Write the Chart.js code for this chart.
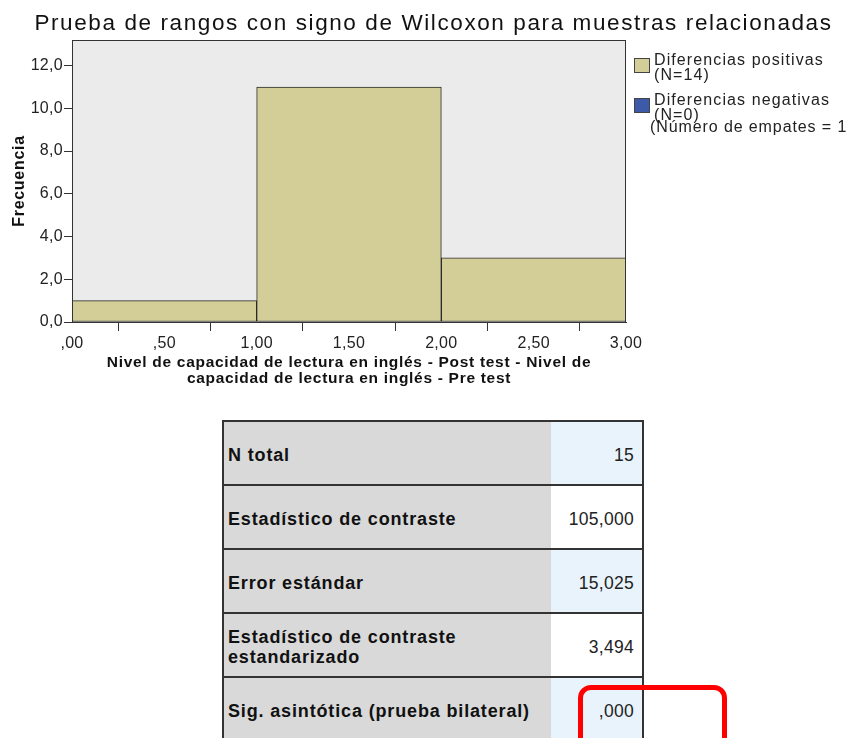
<!DOCTYPE html>
<html>
<head>
<meta charset="utf-8">
<script src="https://cdn.jsdelivr.net/npm/chart.js@4.4.1/dist/chart.umd.min.js"></script>
<style>
  body { margin: 0; background: #fff; font-family: "Liberation Sans", Arial, sans-serif; color: #111; }
  #page { position: relative; width: 855px; height: 738px; overflow: hidden; }
  #title { position: absolute; left: 12px; top: 10px; width: 843px; text-align: center; font-size: 22.5px;
           line-height: 26px; letter-spacing: 1.6px; white-space: nowrap; }
  #plot { position: absolute; left: 0; top: 0; }
  #legend { position: absolute; left: 634px; top: 51.5px; font-size: 16px; line-height: 15px;
            letter-spacing: 1.1px; color: #222; }
  .lg-item { position: relative; padding-left: 20px; margin-bottom: 10px; white-space: nowrap; }
  .lg-sw { position: absolute; left: 0; top: 6.5px; width: 14px; height: 13px; border: 1px solid #444; }
  .lg-note { padding-left: 16px; margin-top: -12.5px; white-space: nowrap; letter-spacing: 0.9px; }
  #stats { position: absolute; left: 222px; top: 420px; width: 418px; border: 2px solid #333; border-bottom: none; }
  .st-row { display: flex; height: 62px; border-bottom: 2px solid #333; }
  .st-lab { width: 327px; background: #d9d9d9; font-weight: bold; font-size: 18px; letter-spacing: 0.85px;
            display: flex; align-items: center; padding: 4px 0 0 4px; box-sizing: border-box; line-height: 20px; }
  .st-val { flex: 1; font-size: 17.5px; letter-spacing: 0.3px; color: #222; display: flex; align-items: center;
            justify-content: flex-end; padding: 4px 8px 0 0; }
  .st-row:nth-child(odd) .st-val { background: #e9f3fc; }
  .st-row:nth-child(even) .st-val { background: #fff; }
  #mark { position: absolute; left: 578px; top: 685px; width: 139px; height: 90px; border: 5px solid #f00; border-radius: 13px; }
</style>
</head>
<body>
<div id="page">
  <canvas id="plot" width="855" height="395"></canvas>
  <div id="title"></div>
  <div id="legend"></div>
  <div id="stats"></div>
  <div id="mark"></div>
</div>
<script>
// histogram bins (difference post - pre) and how many cases fall in each
const binStart = [0, 1, 2];
const binEnd = [1, 2, 3];
const frequency = [1, 11, 3];

// axis ticks as printed by SPSS
const xTickValues = [0, 0.5, 1, 1.5, 2, 2.5, 3];
const yTickValues = [0, 2, 4, 6, 8, 10, 12];
const yMax = 13.2;

const chartTitle = "Prueba de rangos con signo de Wilcoxon para muestras relacionadas";
const xTitle = ["Nivel de capacidad de lectura en inglés - Post test - Nivel de",
                "capacidad de lectura en inglés - Pre test"];
const yTitle = "Frecuencia";

const legendLabels = [["Diferencias positivas", "(N=14)"], ["Diferencias negativas", "(N=0)"]];
const legendColors = ["#d3ce97", "#3d5aa9"];
const tiesNote = "(Número de empates = 1";

// test summary table
const statLabels = ["N total", "Estadístico de contraste", "Error estándar",
                    "Estadístico de contraste<br>estandarizado", "Sig. asintótica (prueba bilateral)"];
const statValues = ["15", "105,000", "15,025", "3,494", ",000"];

const comma = (v, d) => v.toFixed(d).replace(".", ",");

document.getElementById("title").textContent = chartTitle;

document.getElementById("legend").innerHTML =
  legendLabels.map((l, i) =>
    `<div class="lg-item"><span class="lg-sw" style="background:${legendColors[i]}"></span>${l.join("<br>")}</div>`
  ).join("") + `<div class="lg-note">${tiesNote}</div>`;

document.getElementById("stats").innerHTML = statLabels.map((l, i) =>
  `<div class="st-row"><div class="st-lab">${l}</div><div class="st-val">${statValues[i]}</div></div>`).join("");

// light gray plot panel + frame, like the SPSS chart area
const panel = {
  id: "panel",
  beforeDraw(c) {
    const a = c.chartArea, ctx = c.ctx;
    ctx.save(); ctx.fillStyle = "#ebebeb";
    ctx.fillRect(a.left, a.top, a.width, a.height); ctx.restore();
  },
  afterDraw(c) {
    const a = c.chartArea, ctx = c.ctx;
    ctx.save(); ctx.strokeStyle = "#333"; ctx.lineWidth = 1;
    ctx.strokeRect(a.left + 0.5, a.top + 0.5, a.width - 1, a.height); ctx.restore();
  },
};

// SPSS text is a bit wider than Liberation: axis titles are drawn with the grid layer,
// tick labels (ticks.z = 1) after the datasets, so each gets its own spacing
const spacing = {
  id: "spacing",
  beforeDraw(c) { c.ctx.letterSpacing = "0.7px"; },
  afterDatasetsDraw(c) { c.ctx.letterSpacing = "0.3px"; },
};

new Chart(document.getElementById("plot"), {
  type: "bar",
  data: {
    datasets: [{
      label: "Frecuencia",
      data: binStart.map((s, i) => ({ x: (s + binEnd[i]) / 2, y: frequency[i] })),
      backgroundColor: legendColors[0], borderColor: "#2a2a2a", borderWidth: 1, borderSkipped: false,
      barThickness: "flex", barPercentage: 1, categoryPercentage: 1,
    }],
  },
  options: {
    responsive: false, animation: false,
    layout: { padding: { top: 40, right: 229, left: 0, bottom: 0 } },
    plugins: { legend: { display: false }, tooltip: { enabled: false } },
    scales: {
      x: {
        type: "linear", min: 0, max: 3, offset: false,
        afterBuildTicks(s) { s.ticks = xTickValues.map(v => ({ value: v })); },
        afterFit(s) { s.height = 73; },
        grid: { drawOnChartArea: false, drawTicks: true, tickLength: 9, color: "#333" },
        border: { display: true, color: "#333" },
        ticks: { z: 1, autoSkip: false, maxRotation: 0, padding: 3, color: "#222",
                 font: { family: "Liberation Sans", size: 16 },
                 callback: v => comma(v, 2).replace(/^0/, "") },
        title: { display: true, text: xTitle, color: "#111", padding: { top: 0, bottom: 8 },
                 font: { family: "Liberation Sans", size: 15.5, weight: "bold", lineHeight: 1.065 } },
      },
      y: {
        min: 0, max: yMax,
        afterBuildTicks(s) { s.ticks = yTickValues.map(v => ({ value: v })); },
        afterFit(s) { s.width = 72; },
        grid: { drawOnChartArea: false, drawTicks: true, tickLength: 8, color: "#333" },
        border: { display: true, color: "#333" },
        ticks: { z: 1, padding: 1, color: "#222", font: { family: "Liberation Sans", size: 16 },
                 callback: v => comma(v, 1) },
        title: { display: true, text: yTitle, color: "#111", padding: { top: 9.5, bottom: 0 },
                 font: { family: "Liberation Sans", size: 16, weight: "bold" } },
      },
    },
  },
  plugins: [panel, spacing],
});
</script>
</body>
</html>
